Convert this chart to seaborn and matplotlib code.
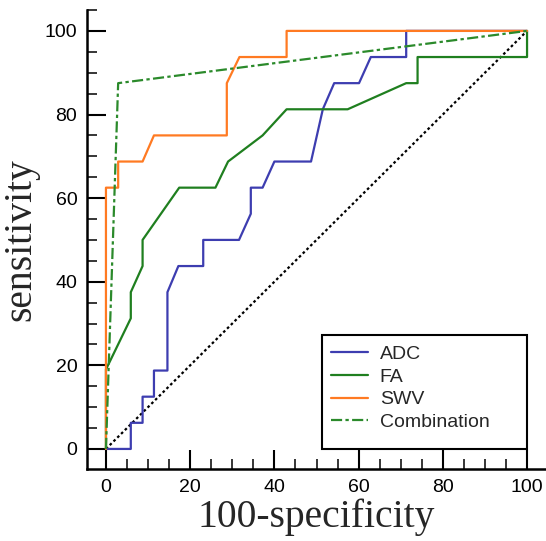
import matplotlib
matplotlib.use("Agg")
import matplotlib.pyplot as plt
from matplotlib.patches import Rectangle
from matplotlib.ticker import MultipleLocator
import seaborn as sns

# ROC curve points (100-specificity, sensitivity)
adc_x = [0, 5.9, 5.9, 8.7, 8.7, 11.4, 11.4, 14.6, 14.6, 17.2, 23.1, 23.1, 31.6, 34.4, 34.4,
         37.2, 40, 48.7, 51.5, 54.2, 60.1, 62.9, 71.3, 71.3, 100]
adc_y = [0, 0, 6.25, 6.25, 12.5, 12.5, 18.75, 18.75, 37.5, 43.75, 43.75, 50, 50, 56.25, 62.5,
         62.5, 68.75, 68.75, 81.25, 87.5, 87.5, 93.75, 93.75, 100, 100]

fa_x = [0, 0, 5.9, 5.9, 8.7, 8.7, 17.4, 26, 29, 37.2, 42.9, 57.4, 71.3, 74, 74, 100, 100]
fa_y = [0, 19, 31.25, 37.5, 43.75, 50, 62.5, 62.5, 68.75, 75, 81.25, 81.25, 87.5, 87.5,
        93.75, 93.75, 100]

swv_x = [0, 0, 2.9, 2.9, 8.7, 11.4, 28.7, 28.7, 31.7, 42.9, 42.9, 100]
swv_y = [0, 62.5, 62.5, 68.75, 68.75, 75, 75, 87.5, 93.75, 93.75, 100, 100]

comb_x = [0, 2.9, 100]
comb_y = [0, 87.5, 100]

ref_x = [0, 100]
ref_y = [0, 100]

curves = [
    ("ADC", adc_x, adc_y, "#3d3db0", "-"),
    ("FA", fa_x, fa_y, "#1f7f1f", "-"),
    ("SWV", swv_x, swv_y, "#ff7a22", "-"),
    ("Combination", comb_x, comb_y, "#2b8a2b", (0, (5, 1.5, 1.5, 1.5))),
]

sns.set_style("ticks")
plt.rcParams["font.family"] = ["Liberation Sans", "DejaVu Sans"]

fig = plt.figure(figsize=(5.46, 5.41), dpi=100)
ax = fig.add_axes([87 / 546, 72 / 541, 459 / 546, 459 / 541])

# chance line
sns.lineplot(x=ref_x, y=ref_y, ax=ax, color="black", lw=1.6,
             linestyle=(0, (1.2, 1.2)), sort=False, estimator=None)

for name, xs, ys, col, ls in curves:
    sns.lineplot(x=xs, y=ys, ax=ax, color=col, lw=1.6, linestyle=ls,
                 sort=False, estimator=None, label=name)

ax.set_xlim(-4.5, 104.5)
ax.set_ylim(-4.8, 105)
ax.xaxis.set_major_locator(MultipleLocator(20))
ax.yaxis.set_major_locator(MultipleLocator(20))
ax.xaxis.set_minor_locator(MultipleLocator(5))
ax.yaxis.set_minor_locator(MultipleLocator(5))
ax.tick_params(which="major", direction="in", length=13.5, width=1.5,
               labelsize=14, pad=7, colors="black")
ax.tick_params(which="minor", direction="in", length=7, width=1.3)

sns.despine(ax=ax)
for side in ["left", "bottom"]:
    ax.spines[side].set_linewidth(1.8)
    ax.spines[side].set_color("black")

ax.set_xlabel("100-specificity", fontsize=28.5, family="Liberation Serif", labelpad=2)
ax.set_ylabel("sensitivity", fontsize=28.5, family="Liberation Serif", labelpad=4)

# legend with a hand-placed frame
leg = ax.legend(loc="upper left", bbox_to_anchor=(0.532, 0.27), frameon=False,
                fontsize=14, handlelength=1.9, handletextpad=0.6,
                labelspacing=0.27, borderaxespad=0, borderpad=0)
ax.add_patch(Rectangle((0.512, 0.0436), 0.4466, 0.248, transform=ax.transAxes,
                       fill=False, lw=1.5, edgecolor="black", zorder=5))

fig.savefig("out.png", dpi=100)
